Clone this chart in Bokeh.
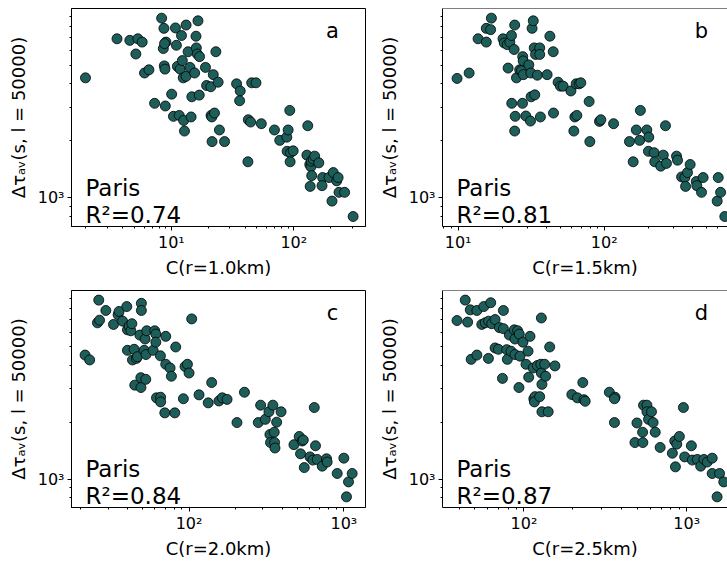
import math
from bokeh.plotting import figure
from bokeh.layouts import column, row
from bokeh.models import Range1d, FixedTicker, Label, Span
from bokeh.embed import file_html
from bokeh.resources import INLINE

# ---------------- data ----------------
xa = [1.99, 3.6, 4.58, 5.33, 5.78, 5.13, 6.04, 6.56, 7.3, 8.33, 8.7, 8.6, 9.04, 8.8, 8.76, 8.87, 8.93,
      10.06, 10.4, 10.8, 11.0, 11.2, 11.6, 11.8, 12.1, 12.3, 12.5, 12.6, 12.8, 13.2, 13.2, 13.7, 14.2,
      14.5, 14.7, 15.5, 15.9, 16.0, 16.3, 16.5, 16.9, 17.0, 19.0, 19.4, 21.0, 21.1, 21.4, 22.0, 23.1,
      22.5, 24.1, 21.5, 24.7, 27.2, 34.1, 36.5, 36.1, 42.5, 44.4, 45.3, 49.1, 54.3, 42.2, 69.5, 76.8,
      87.7, 89.9, 92.7, 88.2, 94, 98.8, 93.3, 130, 128, 135, 138, 139, 144, 148, 140, 160, 172, 194,
      210, 224, 230, 136, 170, 234, 205, 260, 305]
ya = [4290, 6890, 6760, 6890, 6620, 5730, 4550, 4730, 3150, 8850, 7820, 6120, 6620, 6500, 4960, 4770, 3050,
      3520, 2690, 7860, 6370, 4930, 2720, 4770, 7170, 5290, 4290, 2560, 2250, 8140, 4370, 5890, 4870,
      2670, 3410, 4550, 7110, 6170, 5730, 8570, 3480, 5550, 4870, 3910, 3850, 2720, 2670, 4460, 5890,
      2800, 4070, 1980, 2280, 1980, 3990, 3660, 3250, 2580, 2510, 4040, 4040, 2460, 1550, 2280, 2010,
      2090, 2280, 2890, 1760, 1730, 1770, 1550, 2400, 1680, 1500, 1460, 1560, 1600, 1660, 1310, 1530, 1280, 1280,
      1360, 1230, 1280, 1150, 1160, 1070, 962, 1070, 798]

xb = [9.84, 11.9, 13.7, 15.6, 15.6, 16.7, 16.9, 20.3, 20.7, 21.7, 22.6, 23.2, 22.0, 23.3, 24.2, 24.4,
      24.6, 24.4, 25.1, 26.4, 27.2, 27.6, 27.7, 27.9, 28.0, 29.1, 30.5, 31.3, 31.5, 31.6, 32.1, 32.7,
      33.2, 33.5, 33.9, 34.9, 36.2, 36.2, 36.6, 40.7, 42.5, 44.8, 45.0, 48.4, 50.2, 52.4, 59.2, 62.0,
      63.0, 64.3, 65.0, 67.4, 69.2, 78.9, 79.8, 92.9, 94.9, 116, 149, 158, 166, 175, 177, 196, 202,
      201, 220, 222, 244, 254, 263, 267, 313, 318, 339, 357, 361, 372, 388, 427, 431, 464, 476, 594,
      604, 627, 670]
yb = [4260, 4550, 6890, 6620, 7820, 7700, 8850, 6890, 6550, 6420, 6620, 7170, 4830, 3150, 6050, 8140,
      2690, 2250, 4290, 4730, 4680, 3150, 5550, 5270, 4460, 2700, 5020, 2540, 4550, 3410, 7820, 8570,
      6170, 3490, 5700, 4430, 6170, 5700, 2670, 4460, 7110, 5890, 2800, 4070, 3880, 3880, 3660, 2250,
      2670, 3990, 2720, 3990, 4040, 3220, 1980, 2530, 2580, 2460, 1980, 1550, 2280, 2010, 2890, 2280, 2090,
      1760, 1730, 1550, 1470, 1680, 2400, 1520, 1660, 1580, 1290, 1280, 1150, 1360, 1500, 1220, 1160, 1070, 1280, 962,
      1280, 1070, 798]

xc = [21.3, 22.8, 25.6, 26.4, 26.1, 29.0, 32.5, 34.8, 35.3, 37.2, 39.6, 40.0, 40.0, 41.0, 42.1, 42.7,
      43.1, 44.2, 44.6, 45.7, 46.4, 48.1, 48.8, 48.9, 49.2, 49.2, 51.3, 52.0, 52.5, 52.7, 53.3, 58.6,
      60.0, 61.0, 61.0, 61.6, 65.3, 65.5, 65.5, 69.7, 70.7, 70.7, 75.4, 76.9, 82.0, 80.9, 91.9, 94.2,
      97.6, 100, 104, 116, 133, 140, 156, 164, 176, 204, 228, 280, 290, 311, 328, 333, 336, 348, 355,
      357, 359, 368, 393, 476, 515, 525, 538, 547, 555, 604, 631, 644, 656, 673, 725, 773, 780, 906,
      1000, 1040, 1072, 1132]
yc = [4530, 4270, 6710, 6930, 8850, 7800, 6580, 7410, 7710, 6850, 8180, 6160, 4800, 6450, 6090, 6640,
      4270, 4860, 3140, 4350, 4440, 5780, 3440, 3050, 8510, 7800, 4800, 5510, 3370, 4560, 6090, 4800,
      6090, 5850, 5300, 2690, 4490, 2710, 2560, 2240, 5690, 4050, 3870, 3500, 5000, 2240, 2660, 3940,
      4050, 3640, 7040, 2790, 2530, 3240, 2590, 2690, 2640, 1990, 2880, 1990, 2460, 2070, 2270, 1720, 1560, 2460, 1770,
      1560, 1460, 2000, 2270, 1520, 1680, 1360, 1590, 1610, 1150, 1310, 1260, 2390, 1500, 1270, 1170, 1280, 1230, 1070,
      1290, 805, 966, 1070]

xd = [38.8, 43.6, 45.1, 46.8, 47.4, 51.4, 51.4, 55.1, 56.7, 57.8, 60.5, 60.7, 62.5, 63.4, 66.5, 66.5,
      69.7, 70.7, 73.8, 74.8, 74.8, 78.4, 79.1, 81.4, 83.3, 87.3, 88.1, 88.1, 91.5, 93.2, 93.6, 94.6,
      98.6, 103, 106, 107, 109, 114, 115, 117, 116, 121, 125, 127, 128, 128, 129, 129, 134, 136, 141,
      144, 155, 197, 213, 230, 234, 238, 335, 363, 360, 360, 495, 481, 536, 538, 543, 570, 570, 583,
      608, 622, 641, 687, 817, 845, 853, 869, 902, 955, 972, 1069, 1083, 1162, 1219, 1277, 1337, 1435,
      1435, 1538, 1592, 1690]
yd = [6900, 8850, 6770, 7860, 4300, 7800, 4530, 6580, 8180, 6710, 4350, 6850, 8570, 6640, 6980, 4940,
      4860, 6330, 3410, 7800, 6250, 4840, 4300, 5780, 4750, 6160, 5510, 4560, 6090, 3050, 5850, 4470,
      5300, 4050, 4750, 3460, 5690, 3870, 2660, 2730, 2560, 3990, 2730, 4050, 7120, 3640, 3170, 2270,
      4050, 3500, 2270, 5000, 3970, 2800, 2690, 3240, 2630, 2580, 2880, 2710, 2660, 1990, 1980, 1560,
      1770, 1560, 2460, 2460, 2270, 2070, 2270, 1990, 1770, 1470, 1370, 1590, 1160, 1530, 1680, 2390,
      1310, 1500, 1260, 1270, 1170, 1270, 1230, 1290, 1070, 805, 1070, 966]

panel_letters = ["a", "b", "c", "d"]
r2_values = ["0.74", "0.81", "0.84", "0.87"]
x_labels = ["C(r=1.0km)", "C(r=1.5km)", "C(r=2.0km)", "C(r=2.5km)"]
city = "Paris"
y_label = "Δτₐᵥ(s, l = 50000)"

# axis limits (right panels are cut by the window)
x_limits = [(1.53, 385), (7.82, 699), (17.4, 1380), (31.6, 1782)]
y_limits = (707, 9950)
x_major = [[10, 100], [10, 100], [100, 1000], [100, 1000]]
y_major = [1000]
sup = {1: "¹", 2: "²", 3: "³"}

FILL = "#1d5e5a"
FONT = "DejaVu Sans"


def minor_ticks(lo, hi):
    out = []
    for e in range(int(math.floor(math.log10(lo))), int(math.ceil(math.log10(hi))) + 1):
        for m in range(2, 10):
            v = m * 10 ** e
            if lo <= v <= hi:
                out.append(v)
    return out


def make(i, xs, ys, is_right, is_top):
    xr = x_limits[i]
    w = 352 if is_right else 375
    h = 280 if is_top else 281
    p = figure(width=w, height=h, x_axis_type="log", y_axis_type="log",
               x_range=Range1d(*xr), y_range=Range1d(*y_limits),
               output_backend="svg", toolbar_location=None, min_border=0)
    p.min_border_left = 66 if is_right else 71
    p.min_border_right = 0 if is_right else 10
    p.min_border_top = 8 if is_top else 10
    p.min_border_bottom = 48
    p.grid.visible = False
    p.background_fill_color = "white"
    p.border_fill_color = "white"
    if is_right:
        p.outline_line_color = None
        p.add_layout(Span(location=y_limits[1], dimension="width", line_color="black", line_width=1))
    else:
        p.outline_line_color = "black"
        p.outline_line_width = 1

    p.xaxis.ticker = FixedTicker(ticks=x_major[i], minor_ticks=minor_ticks(*xr))
    p.yaxis.ticker = FixedTicker(ticks=y_major, minor_ticks=minor_ticks(*y_limits))
    p.xaxis.major_label_overrides = {t: "10" + sup[int(round(math.log10(t)))] for t in x_major[i]}
    p.yaxis.major_label_overrides = {t: "10" + sup[int(round(math.log10(t)))] for t in y_major}
    for ax in (p.xaxis, p.yaxis):
        ax.axis_line_color = "black"
        ax.axis_line_width = 1
        ax.major_tick_line_color = "black"
        ax.minor_tick_line_color = "black"
        ax.major_tick_out = 4
        ax.major_tick_in = 0
        ax.minor_tick_out = 2
        ax.minor_tick_in = 0
        ax.major_label_text_font = FONT
        ax.major_label_text_font_size = "16px"
        ax.major_label_text_color = "black"
        ax.axis_label_text_font = FONT
        ax.axis_label_text_font_size = "18px"
        ax.axis_label_text_font_style = "normal"
        ax.axis_label_text_color = "black"
        ax.major_label_standoff = 2
        ax.axis_label_standoff = 2
    p.xaxis.axis_label = x_labels[i]
    p.yaxis.axis_label = y_label
    p.yaxis.major_label_standoff = 3
    p.yaxis.axis_label_standoff = 6

    p.scatter(xs, ys, size=10, fill_color=FILL, line_color="black", line_width=0.8)

    x0 = xr[0]
    y0, y1 = y_limits
    p.add_layout(Label(x=x0, y=y0, x_offset=14, y_offset=39, text=city,
                       text_font=FONT, text_font_size="23px", text_color="black",
                       text_baseline="alphabetic"))
    p.add_layout(Label(x=x0, y=y0, x_offset=14, y_offset=12, text="R²=" + r2_values[i],
                       text_font=FONT, text_font_size="23px", text_color="black",
                       text_baseline="alphabetic"))
    p.add_layout(Label(x=x0, y=y1, x_offset=(259 if is_right else 261), y_offset=-22,
                       text=panel_letters[i], text_font=FONT, text_font_size="21px",
                       text_color="black", text_align="center", text_baseline="alphabetic"))
    return p


pa = make(0, xa, ya, False, True)
pb = make(1, xb, yb, True, True)
pc = make(2, xc, yc, False, False)
pd = make(3, xd, yd, True, False)

layout = column(row(pa, pb), row(pc, pd))
open("out.html", "w").write(file_html(layout, INLINE))
